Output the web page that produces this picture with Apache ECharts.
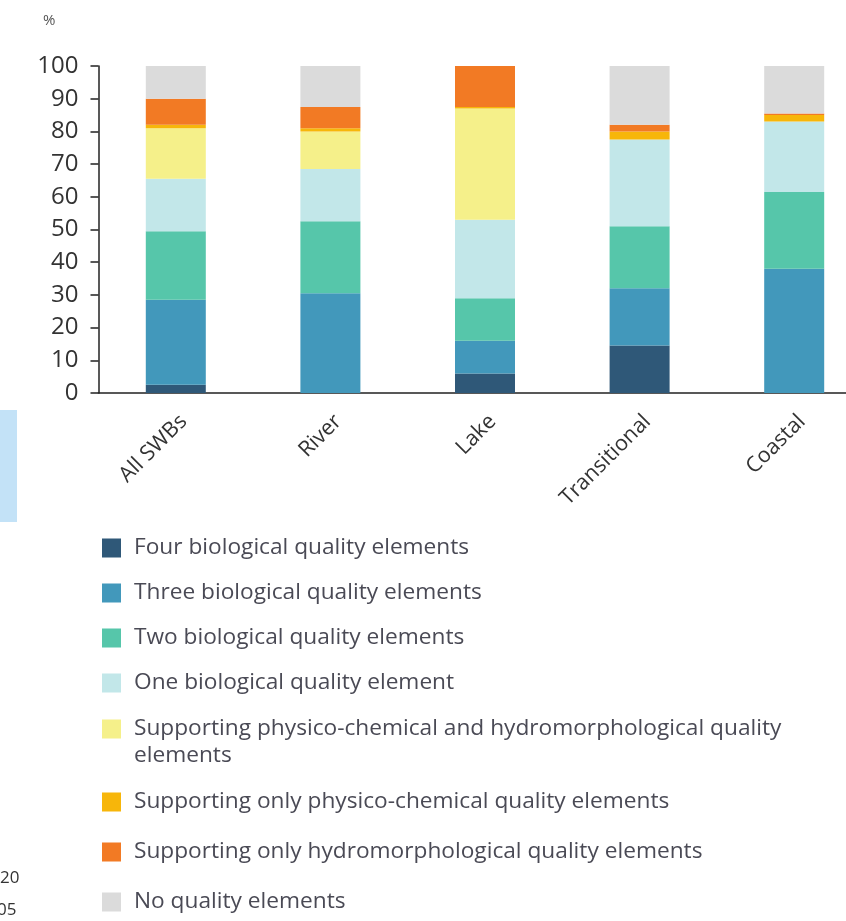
<!DOCTYPE html>
<html>
<head>
<meta charset="utf-8">
<script src="https://cdn.jsdelivr.net/npm/echarts@6/dist/echarts.min.js"></script>
<style>
html,body{margin:0;padding:0;background:#fff;overflow:hidden;}
#c{width:872px;height:921px;}
</style>
</head>
<body>
<div id="c"></div>
<script>
const categories = ['All SWBs', 'River', 'Lake', 'Transitional', 'Coastal'];
const seriesNames = [
  'Four biological quality elements',
  'Three biological quality elements',
  'Two biological quality elements',
  'One biological quality element',
  'Supporting physico-chemical and hydromorphological quality elements',
  'Supporting only physico-chemical quality elements',
  'Supporting only hydromorphological quality elements',
  'No quality elements'
];
const fourBQE      = [2.5, 0, 6, 14.5, 0];
const threeBQE     = [26, 30.5, 10, 17.5, 38];
const twoBQE       = [21, 22, 13, 19, 23.5];
const oneBQE       = [16, 16, 24, 26.5, 21.5];
const physHydro    = [15.5, 11.5, 34, 0, 0];
const onlyPhys     = [1, 1, 0.5, 2.5, 2];
const onlyHydro    = [8, 6.5, 12.5, 2, 0.5];
const noQE         = [10, 12.5, 0, 18, 14.5];
const yTicks       = [0, 10, 20, 30, 40, 50, 60, 70, 80, 90, 100];

const seriesData = [fourBQE, threeBQE, twoBQE, oneBQE, physHydro, onlyPhys, onlyHydro, noQE];
const colors = ['#2f5878', '#4298bb', '#56c6aa', '#c2e7e9', '#f5f08a', '#f7b60a', '#f27a24', '#dbdbdb'];

const FONT = 'Open Sans';
const LH = 27;
const legendText = {fontFamily: FONT, fontSize: 22.7, color: '#4a4a55', lineHeight: LH};
// square swatch (19x19) followed by blank space so the label starts further right
const SWATCH = 'path://M0,0h19v19h-19zM26.99,0h0.01v0.01h-0.01z';
const legendBase = {
  orient: 'vertical', left: 102, padding: 0,
  itemWidth: 27, itemHeight: 19, icon: SWATCH,
  textStyle: legendText, selectedMode: false
};

const chart = echarts.init(document.getElementById('c'), null, {renderer: 'canvas'});
chart.setOption({
  animation: false,
  color: colors,
  textStyle: {fontFamily: FONT},
  title: {
    text: '%', left: 38, top: 8,
    textStyle: {fontFamily: FONT, fontSize: 15, fontWeight: 'normal', color: '#555'}
  },
  grid: {left: 98.5, top: 66, bottom: 528, right: 0.5},
  xAxis: {
    type: 'category',
    data: categories,
    axisLine: {lineStyle: {color: '#222', width: 1.5}},
    axisTick: {show: false},
    axisLabel: {rotate: 45, margin: 33, padding: [0, -11, 0, 0], fontFamily: FONT, fontSize: 21.5, color: '#333'}
  },
  yAxis: {
    type: 'value', min: 0, max: 100, interval: 10,
    axisLine: {show: true, lineStyle: {color: '#222', width: 1.5}},
    axisTick: {show: true, length: 8, lineStyle: {color: '#222', width: 1.5}},
    splitLine: {show: false},
    axisLabel: {
      margin: 20, fontFamily: FONT, fontSize: 24, color: '#333',
      formatter: v => (yTicks.indexOf(v) >= 0 ? String(v) : '')
    }
  },
  legend: [
    Object.assign({}, legendBase, {
      top: 548 - LH / 2, itemGap: 45 - LH,
      data: seriesNames.slice(0, 4)
    }),
    Object.assign({}, legendBase, {
      top: 729 - 1.5 * LH,
      formatter: n => '\n' + n.replace(' quality elements', ' quality\nelements'),
      data: [seriesNames[4]]
    }),
    Object.assign({}, legendBase, {
      top: 802 - LH / 2, itemGap: 50 - LH,
      data: seriesNames.slice(5)
    })
  ],
  graphic: [
    {type: 'rect', shape: {x: 0, y: 410, width: 17, height: 112}, style: {fill: '#c3e2f7'}, silent: true},
    {type: 'text', style: {x: 0, y: 870, text: '20', fontFamily: FONT, fontSize: 17, fill: '#333'}, silent: true},
    {type: 'text', style: {x: -3, y: 902, text: '05', fontFamily: FONT, fontSize: 17, fill: '#333'}, silent: true}
  ],
  series: seriesNames.map((name, i) => ({
    name: name,
    type: 'bar',
    stack: 'total',
    barWidth: 60,
    data: seriesData[i],
    itemStyle: {color: colors[i]}
  }))
});
</script>
</body>
</html>
